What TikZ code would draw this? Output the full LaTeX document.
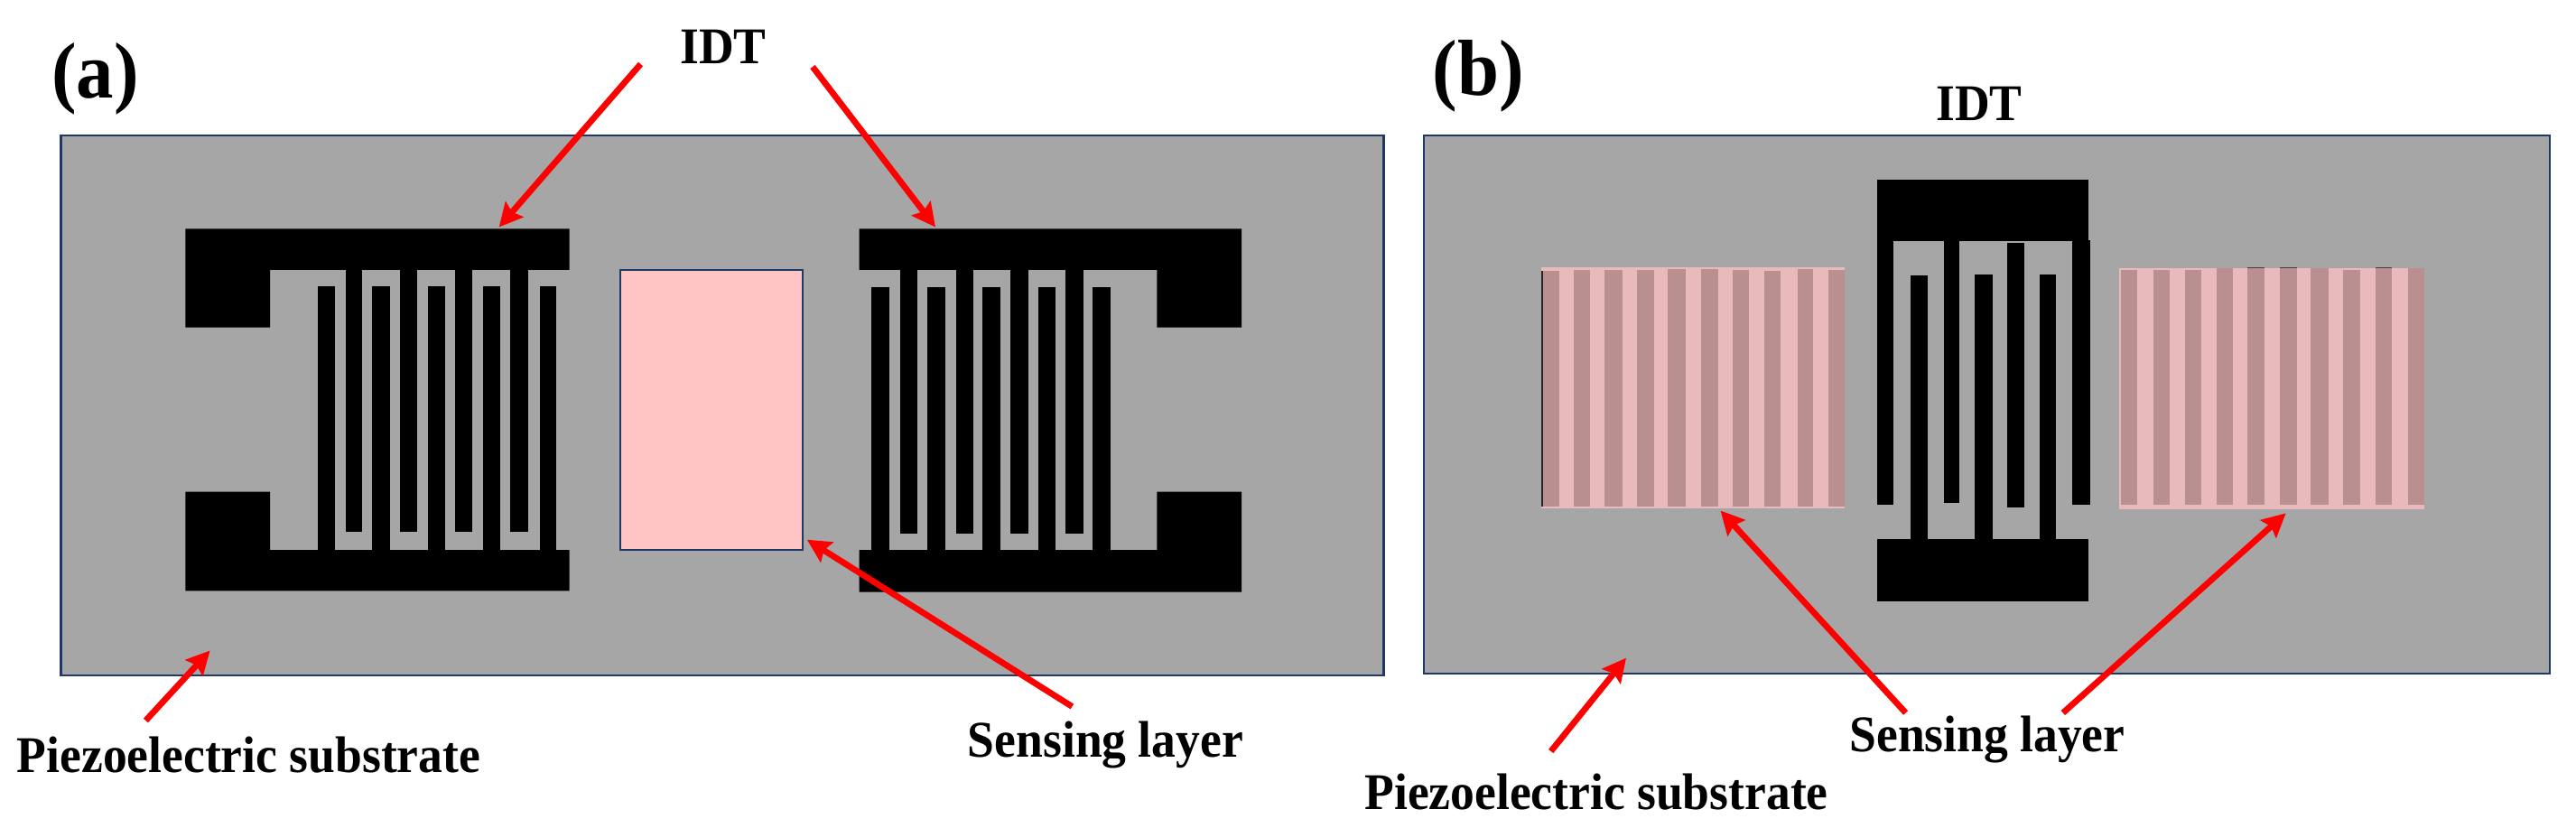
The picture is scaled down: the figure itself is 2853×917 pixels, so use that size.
\documentclass[tikz,border=0pt]{standalone}
\usepackage{fontspec}
\setmainfont{Liberation Serif}[FakeStretch=0.94]
\usetikzlibrary{arrows.meta}
\definecolor{subfill}{HTML}{A6A6A6}
\definecolor{subedge}{HTML}{1F3864}
\definecolor{pinkfill}{HTML}{FFC5C5}
\definecolor{lightstripe}{HTML}{E8BABC}
\definecolor{darkstripe}{HTML}{B98F8F}
\definecolor{arrowred}{HTML}{FF0000}
\tikzset{
  substrate/.style={fill=subfill,draw=subedge,line width=2.6pt},
  metal/.style={fill=black,draw=none},
  lightband/.style={fill=lightstripe,draw=none},
  darkband/.style={fill=darkstripe,draw=none},
  pointer/.style={draw=arrowred,line width=6.8pt,-{Stealth[length=26pt,width=26pt,inset=4pt]}},
  lab/.style={font=\fontsize{57pt}{62pt}\selectfont\bfseries,anchor=base,inner sep=0pt,text=black},
  panel/.style={font=\fontsize{88pt}{92pt}\selectfont\bfseries,anchor=base,inner sep=0pt,text=black}
}
\begin{document}
\begin{tikzpicture}[x=1pt,y=-1pt]
\useasboundingbox (0,0) rectangle (2853,917);
\fill[white] (0,0) rectangle (2853,917);
% substrates
\draw[substrate] (67.5,150) rectangle (1532.5,748);
\draw[substrate] (1577,150) rectangle (2824,746);
% left IDT of (a)
\fill[metal] (205.3,253.3) -- (630.7,253.3) -- (630.7,299) -- (299,299) -- (299,362.7) -- (205.3,362.7) -- cycle;
\fill[metal] (205.3,654.3) -- (630.7,654.3) -- (630.7,609) -- (299,609) -- (299,544.7) -- (205.3,544.7) -- cycle;
\foreach \l/\r in {382.7/400.7,443/461.7,504.3/522.7,565/584.7}
  \fill[metal] (\l,295) rectangle (\r,589.3);
\foreach \l/\r in {352.3/370.7,412.3/431.7,474.3/492.7,535/554,597.7/616.3}
  \fill[metal] (\l,316.7) rectangle (\r,612);
% right IDT of (a)
\fill[metal] (951.7,253.3) -- (1375,253.3) -- (1375,362.7) -- (1281.3,362.7) -- (1281.3,299) -- (951.7,299) -- cycle;
\fill[metal] (951.7,655.7) -- (1375,655.7) -- (1375,544.7) -- (1281.3,544.7) -- (1281.3,609) -- (951.7,609) -- cycle;
\foreach \l/\r in {997/1016.3,1059.3/1078,1119/1139,1180.3/1200}
  \fill[metal] (\l,295) rectangle (\r,590.7);
\foreach \l/\r in {964.7/984.7,1026.7/1047,1088/1108.3,1150.3/1169,1210/1230.3}
  \fill[metal] (\l,318.3) rectangle (\r,612);
% sensing layer of (a)
\filldraw[fill=pinkfill,draw=subedge,line width=1.8pt] (686.7,298.8) rectangle (889.2,608.8);
% IDT of (b)
\fill[metal] (2078.7,198.7) rectangle (2313.3,267.3);
\fill[metal] (2078.7,597) rectangle (2313.3,666);
\foreach \l/\r/\t/\b in {2078.7/2096.7/260/559.3,2152.7/2170.3/260/557,2222.7/2242/269.3/562,2295.3/2314.7/266/559.3}
  \fill[metal] (\l,\t) rectangle (\r,\b);
\foreach \l/\r/\t in {2116/2134.7/305.3,2187.3/2206.7/304,2258.7/2277/304}
  \fill[metal] (\l,\t) rectangle (\r,600);
% left sensing layer of (b)
\fill[lightband] (1707.3,296) rectangle (2043.3,563.3);
\foreach \l/\r/\t in {1707.3/1726.7/300,1742.7/1761.3/299,1777.3/1796.7/299,1812.7/1832/299,1847/1866.7/297.7,1884.3/1903/297.7,1918.7/1937/299.3,1954/1972/300,1990.7/2007.7/297.7,2025/2043.3/299.3}
  \fill[darkband] (\l,\t) rectangle (\r,561);
\fill[black!85] (1706.8,300) rectangle (1708.6,561);
% right sensing layer of (b)
\fill[lightband] (2347.3,296.7) rectangle (2685.3,564);
\foreach \l/\r/\t in {2349.3/2367.3/299.3,2384.7/2402.7/299.3,2419.7/2437.7/299.3,2455/2473/296.7,2489.3/2508.3/296.7,2525/2544.3/296.7,2559.3/2579/296.7,2595/2613.7/299.3,2631/2649/296.7,2666.7/2685.3/296.7}
  \fill[darkband] (\l,\t) rectangle (\r,559.3);
\foreach \l/\r in {2489.3/2508.3,2525/2544.3,2631/2649}
  \fill[black!75] (\l,295.7) rectangle (\r,297.4);
% labels
\node[panel] (pa) at (105.5,109) {(a)};
\node[panel] (pb) at (1637,106) {(b)};
\node[lab] (idta) at (801,71) {IDT};
\node[lab] (idtb) at (2192,134) {IDT};
\node[lab] (piezoa) at (275.5,855) {Piezoelectric substrate};
\node[lab] (piezob) at (1768,896) {Piezoelectric substrate};
\node[lab] (sensa) at (1224.5,838) {Sensing layer};
\node[lab] (sensb) at (2201,832) {Sensing layer};
% arrows
\coordinate (a1s) at (709.5,71);   \coordinate (a1e) at (552.7,251.5);
\coordinate (a2s) at (900,74);     \coordinate (a2e) at (1036,251.5);
\coordinate (a3s) at (1187.4,782.5); \coordinate (a3e) at (893.8,597.7);
\coordinate (a4s) at (161.4,798);  \coordinate (a4e) at (232.6,720.5);
\coordinate (b1s) at (1717.7,832); \coordinate (b1e) at (1801,728.7);
\coordinate (b2s) at (2110.6,789.5); \coordinate (b2e) at (1905.5,565.5);
\coordinate (b3s) at (2284.8,789.5); \coordinate (b3e) at (2531.6,568.4);
\draw[pointer] (a1s) -- (a1e);
\draw[pointer] (a2s) -- (a2e);
\draw[pointer] (a3s) -- (a3e);
\draw[pointer] (a4s) -- (a4e);
\draw[pointer] (b1s) -- (b1e);
\draw[pointer] (b2s) -- (b2e);
\draw[pointer] (b3s) -- (b3e);
\end{tikzpicture}
\end{document}
